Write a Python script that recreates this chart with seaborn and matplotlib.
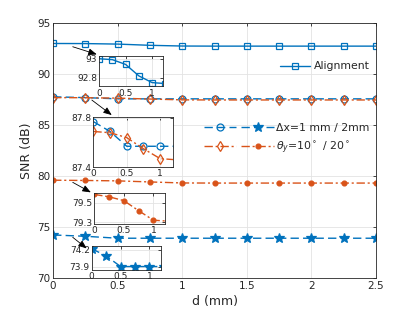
import numpy as np
import pandas as pd
import seaborn as sns
import matplotlib.pyplot as plt
from matplotlib.legend_handler import HandlerTuple

# displacement (mm) and SNR (dB)
d = [0, 0.25, 0.5, 0.75, 1, 1.25, 1.5, 1.75, 2, 2.25, 2.5]
snr_align = [93.0, 92.99, 92.94, 92.82, 92.75, 92.74, 92.74, 92.74, 92.74, 92.74, 92.74]
snr_dx1 = [87.77, 87.69, 87.57, 87.57, 87.57, 87.57, 87.57, 87.57, 87.57, 87.57, 87.57]
snr_ty10 = [87.69, 87.68, 87.64, 87.55, 87.47, 87.46, 87.46, 87.46, 87.46, 87.46, 87.46]
snr_ty20 = [79.59, 79.565, 79.525, 79.42, 79.32, 79.31, 79.31, 79.31, 79.31, 79.31, 79.31]
snr_dx2 = [74.22, 74.09, 73.9, 73.9, 73.9, 73.9, 73.9, 73.9, 73.9, 73.9, 73.9]

blue = "#0072BD"
orange = "#D95319"
dash = (0, (6, 3))
dashdot = (0, (6, 2, 1.5, 2))

df = pd.DataFrame({"d": d, "align": snr_align, "dx1": snr_dx1,
                   "ty10": snr_ty10, "ty20": snr_ty20, "dx2": snr_dx2})

styles = {
    "align": dict(color=blue, linestyle="-", marker="s", markersize=4, markerfacecolor="none"),
    "dx1": dict(color=blue, linestyle=dash, marker="o", markersize=5, markerfacecolor="none"),
    "dx2": dict(color=blue, linestyle=dash, marker="*", markersize=7, markerfacecolor=blue),
    "ty10": dict(color=orange, linestyle=dashdot, marker="d", markersize=5, markerfacecolor="none"),
    "ty20": dict(color=orange, linestyle=dashdot, marker="o", markersize=3.5, markerfacecolor=orange),
}

sns.set_style("whitegrid")
plt.rcParams["font.family"] = ["DejaVu Sans"]


def draw(ax, key):
    st = dict(styles[key])
    sns.lineplot(data=df, x="d", y=key, ax=ax, estimator=None, lw=1.0,
                 markeredgecolor=st["color"], markeredgewidth=0.9, **st)
    return ax.get_lines()[-1]


def style_axes(ax, fs):
    for s in ax.spines.values():
        s.set_color("#262626")
        s.set_linewidth(0.6)
        s.set_visible(True)
    ax.grid(True, color="#e3e3e3", lw=0.6)
    ax.tick_params(direction="in", length=2.5, width=0.6, labelsize=fs,
                   colors="#262626", pad=2, top=True, right=True,
                   labeltop=False, labelright=False)
    ax.set_xlabel("")
    ax.set_ylabel("")


fig = plt.figure(figsize=(4.15, 3.12), dpi=100)
ax = fig.add_axes([0.128, 0.109, 0.778, 0.817])

h = {}
for key in ["align", "dx1", "dx2", "ty10", "ty20"]:
    h[key] = draw(ax, key)

ax.set_xlim(0, 2.5)
ax.set_ylim(70, 95)
ax.set_xticks([0, 0.5, 1, 1.5, 2, 2.5])
ax.set_xticklabels(["0", "0.5", "1", "1.5", "2", "2.5"])
ax.set_yticks([70, 75, 80, 85, 90, 95])
style_axes(ax, 7.5)
ax.set_xlabel("d (mm)", fontsize=9, color="#262626", labelpad=3)
ax.set_ylabel("SNR (dB)", fontsize=9, color="#262626", labelpad=3)

leg1 = ax.legend([h["align"]], ["Alignment"], loc="center right",
                 bbox_to_anchor=(1.0, 0.83), frameon=False, fontsize=7.8,
                 handlelength=2.8, handletextpad=0.3, borderaxespad=0.2)
ax.add_artist(leg1)
ax.legend([(h["dx1"], h["dx2"]), (h["ty10"], h["ty20"])],
          ["Δx=1 mm / 2mm", r"$\theta_y$=10$^\circ$ / 20$^\circ$"],
          handler_map={tuple: HandlerTuple(ndivide=None, pad=0.5)},
          loc="center right", bbox_to_anchor=(1.0, 0.545), frameon=False,
          fontsize=7.8, handlelength=6.5, handletextpad=0.2,
          labelspacing=0.6, borderaxespad=0.2)

# zoomed insets
insets = [
    ("align", [0.239, 0.723, 0.153, 0.098], (92.71, 93.03), [92.8, 93], ["92.8", "93"],
     (0.152, 92.68), (0.338, 91.93)),
    (("dx1", "ty10"), [0.225, 0.464, 0.193, 0.162], (87.4, 87.81), [87.4, 87.8], ["87.4", "87.8"],
     (0.30, 87.45), (0.454, 85.98)),
    ("ty20", [0.227, 0.282, 0.171, 0.098], (79.28, 79.60), [79.3, 79.5], ["79.3", "79.5"],
     (0.152, 79.38), (0.292, 78.4)),
    ("dx2", [0.221, 0.135, 0.167, 0.075], (73.84, 74.26), [73.9, 74.2], ["73.9", "74.2"],
     (0.152, 73.99), (0.26, 72.9)),
]

for keys, rect, ylim, yt, ytl, start, end in insets:
    ax.annotate("", xy=end, xytext=start,
                arrowprops=dict(arrowstyle="-|>,head_length=0.5,head_width=0.2",
                                color="black", lw=0.6, shrinkA=0, shrinkB=0))
    iax = fig.add_axes(rect)
    iax.set_facecolor("white")
    if isinstance(keys, str):
        keys = (keys,)
    for key in keys:
        draw(iax, key)
    iax.set_xlim(0, 1.2)
    iax.set_ylim(*ylim)
    iax.set_xticks([0, 0.5, 1])
    iax.set_xticklabels(["0", "0.5", "1"])
    iax.set_yticks(yt)
    iax.set_yticklabels(ytl)
    style_axes(iax, 6.5)
    iax.tick_params(pad=1.5)

fig.savefig("out.png", dpi=100)
